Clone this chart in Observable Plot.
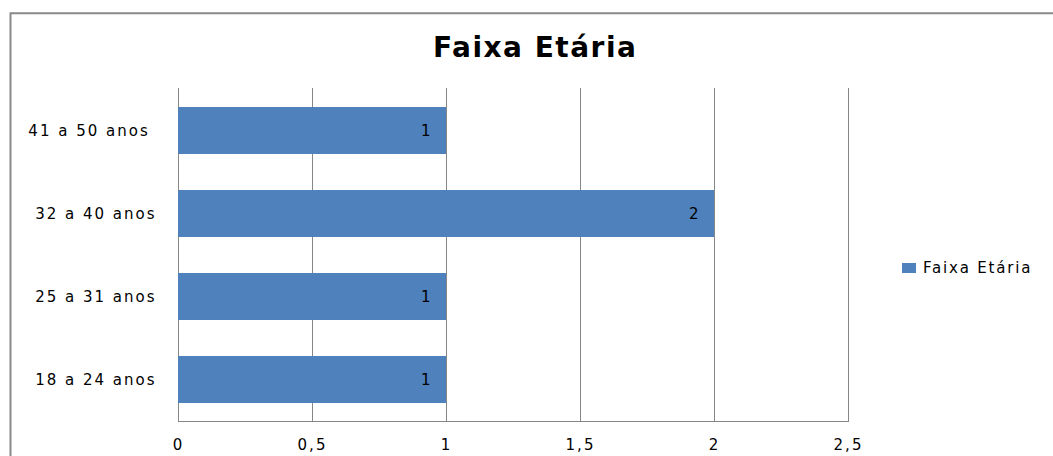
<!DOCTYPE html>
<html><head><meta charset="utf-8">
<script src="https://cdn.jsdelivr.net/npm/d3@7"></script>
<script src="https://cdn.jsdelivr.net/npm/@observablehq/plot@0.6"></script>
<style>
html,body{margin:0;padding:0;background:#fff;}
#wrap{position:relative;width:1053px;height:456px;overflow:hidden;}
#wrap > svg{position:absolute;left:0;top:0;}
#wrap g[aria-label="y-axis tick label"] text,
#wrap g[aria-label="x-axis tick label"] text{font-size:15px !important;letter-spacing:2px !important;}
</style></head><body><div id="wrap"></div>
<script>
const categories = ["41 a 50 anos", "32 a 40 anos", "25 a 31 anos", "18 a 24 anos"];
const values = [1, 2, 1, 1];
const xTicks = [0, 0.5, 1, 1.5, 2, 2.5];
const seriesName = "Faixa Etária";
const chartTitle = "Faixa Etária";

const data = categories.map((c, i) => ({cat: c, value: values[i]}));
const barColor = "#4F81BD";
const gridColor = "#868686";

const chart = Plot.plot({
  width: 1053, height: 456,
  marginLeft: 178, marginRight: 205, marginTop: 88, marginBottom: 35,
  style: {fontFamily: "DejaVu Sans", fontSize: "15px", color: "#000", background: "transparent", letterSpacing: "2px"},
  x: {domain: [0, 2.5], ticks: xTicks, tickFormat: d => String(d).replace(".", ","), label: null},
  y: {domain: categories, paddingInner: 0.435, paddingOuter: 0.2175, align: 0.5, label: null},
  marks: [
    Plot.gridX(xTicks, {stroke: gridColor, strokeOpacity: 1}),
    Plot.frame({anchor: "bottom", stroke: gridColor}),
    Plot.barX(data, {x: "value", y: "cat", fill: barColor}),
    Plot.text(data, {x: "value", y: "cat", text: d => String(d.value), textAnchor: "end", dx: -14, fontSize: 15, fill: "#000"}),
    Plot.axisX({ticks: xTicks, tickSize: 0, tickPadding: 18, tickFormat: d => String(d).replace(".", ","), fontSize: 15, label: null}),
    Plot.axisY({tickSize: 0, tickPadding: 22, fontSize: 15, label: null,
      tickFormat: d => d === "41 a 50 anos" ? d + "\u00a0" : d})
  ]
});

const wrap = document.getElementById("wrap");
wrap.appendChild(chart);

const ns = "http://www.w3.org/2000/svg";
const over = document.createElementNS(ns, "svg");
over.setAttribute("width", 1053);
over.setAttribute("height", 456);
over.innerHTML = `
  <path d="M10.5,456 V13.3 H1053" fill="none" stroke="#898989" stroke-width="2"/>
  <text x="535.2" y="57" text-anchor="middle" font-family="DejaVu Sans" font-weight="bold" font-size="28" letter-spacing="1.5" fill="#000">${chartTitle}</text>
  <rect x="902" y="263" width="14" height="10" fill="${barColor}"/>
  <text x="923" y="273" font-family="DejaVu Sans" font-size="15" letter-spacing="1.8" fill="#000">${seriesName}</text>
`;
wrap.appendChild(over);
</script>
</body></html>
